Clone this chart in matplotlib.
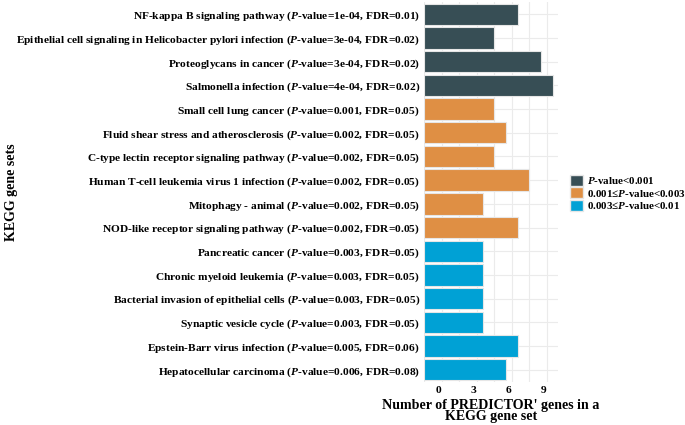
import numpy as np
import matplotlib
matplotlib.use('Agg')
import matplotlib.pyplot as plt
import matplotlib.transforms as mtransforms
from matplotlib.patches import Patch

plt.rcParams['font.family'] = 'Liberation Serif'
plt.rcParams['font.weight'] = 'bold'
plt.rcParams['mathtext.fontset'] = 'custom'
plt.rcParams['mathtext.it'] = 'Liberation Serif:italic:bold'
plt.rcParams['mathtext.rm'] = 'Liberation Serif:bold'

# data
pathways = ['NF-kappa B signaling pathway', 'Epithelial cell signaling in Helicobacter pylori infection',
            'Proteoglycans in cancer', 'Salmonella infection', 'Small cell lung cancer',
            'Fluid shear stress and atherosclerosis', 'C-type lectin receptor signaling pathway',
            'Human T-cell leukemia virus 1 infection', 'Mitophagy - animal',
            'NOD-like receptor signaling pathway', 'Pancreatic cancer', 'Chronic myeloid leukemia',
            'Bacterial invasion of epithelial cells', 'Synaptic vesicle cycle',
            'Epstein-Barr virus infection', 'Hepatocellular carcinoma']
pvals = ['1e-04', '3e-04', '3e-04', '4e-04', '0.001', '0.002', '0.002', '0.002', '0.002', '0.002',
         '0.003', '0.003', '0.003', '0.003', '0.005', '0.006']
fdrs = ['0.01', '0.02', '0.02', '0.02', '0.05', '0.05', '0.05', '0.05', '0.05', '0.05',
        '0.05', '0.05', '0.05', '0.05', '0.06', '0.08']
counts = [8, 6, 10, 11, 6, 7, 6, 9, 5, 8, 5, 5, 5, 5, 8, 7]
groups = [0, 0, 0, 0, 1, 1, 1, 1, 1, 1, 2, 2, 2, 2, 2, 2]

group_labels = ['$P$-value<0.001', '0.001≤$P$-value<0.003', '0.003≤$P$-value<0.01']
colors = ['#374E55', '#DF8F44', '#00A1D5']

labels = [p + ' ($P$-value=' + pv + ', FDR=' + f + ')' for p, pv, f in zip(pathways, pvals, fdrs)]

fig = plt.figure(figsize=(6.85, 4.25), dpi=100)
ax = fig.add_axes([424/685, 1 - 382/425, 134/685, 380/425])

y = np.arange(len(pathways))
ax.barh(y, counts, height=0.9, color=[colors[g] for g in groups],
        edgecolor='#E6E6E6', linewidth=0.8, zorder=3)

ax.set_xlim(0, 11.45)
ax.set_ylim(len(pathways) - 0.48, -0.52)
ax.set_xticks([0, 3, 6, 9])
ax.set_xticks([1.5, 4.5, 7.5, 10.5], minor=True)
ax.set_yticks(y)
ax.set_yticklabels(labels, fontsize=8.2)
ax.grid(True, which='both', color='#EBEBEB', linewidth=0.8, zorder=0)
ax.tick_params(axis='both', which='both', length=0, pad=3)
ax.tick_params(axis='x', labelsize=8.2)
for s in ax.spines.values():
    s.set_visible(False)

# x tick labels sit a little to the right of their gridlines
offset = mtransforms.ScaledTranslation(0.14, 0, fig.dpi_scale_trans)
for lab in ax.get_xticklabels():
    lab.set_transform(lab.get_transform() + offset)

ax.set_xlabel("Number of PREDICTOR' genes in a\nKEGG gene set", fontsize=10.1,
              fontweight='bold', linespacing=0.85, labelpad=2.5)
fig.text(12/685, 1 - 192/425, 'KEGG gene sets', rotation=90, fontsize=10.1,
         fontweight='bold', ha='center', va='center')

handles = [Patch(facecolor=c, edgecolor='#E6E6E6') for c in colors]
fig.legend(handles, group_labels, loc='center left', bbox_to_anchor=(566/685, 1 - 193/425),
           frameon=False, fontsize=7.9, handlelength=1.15, handleheight=1.15,
           handletextpad=0.35, labelspacing=0.12, borderaxespad=0)

fig.savefig('out.png', dpi=100)
